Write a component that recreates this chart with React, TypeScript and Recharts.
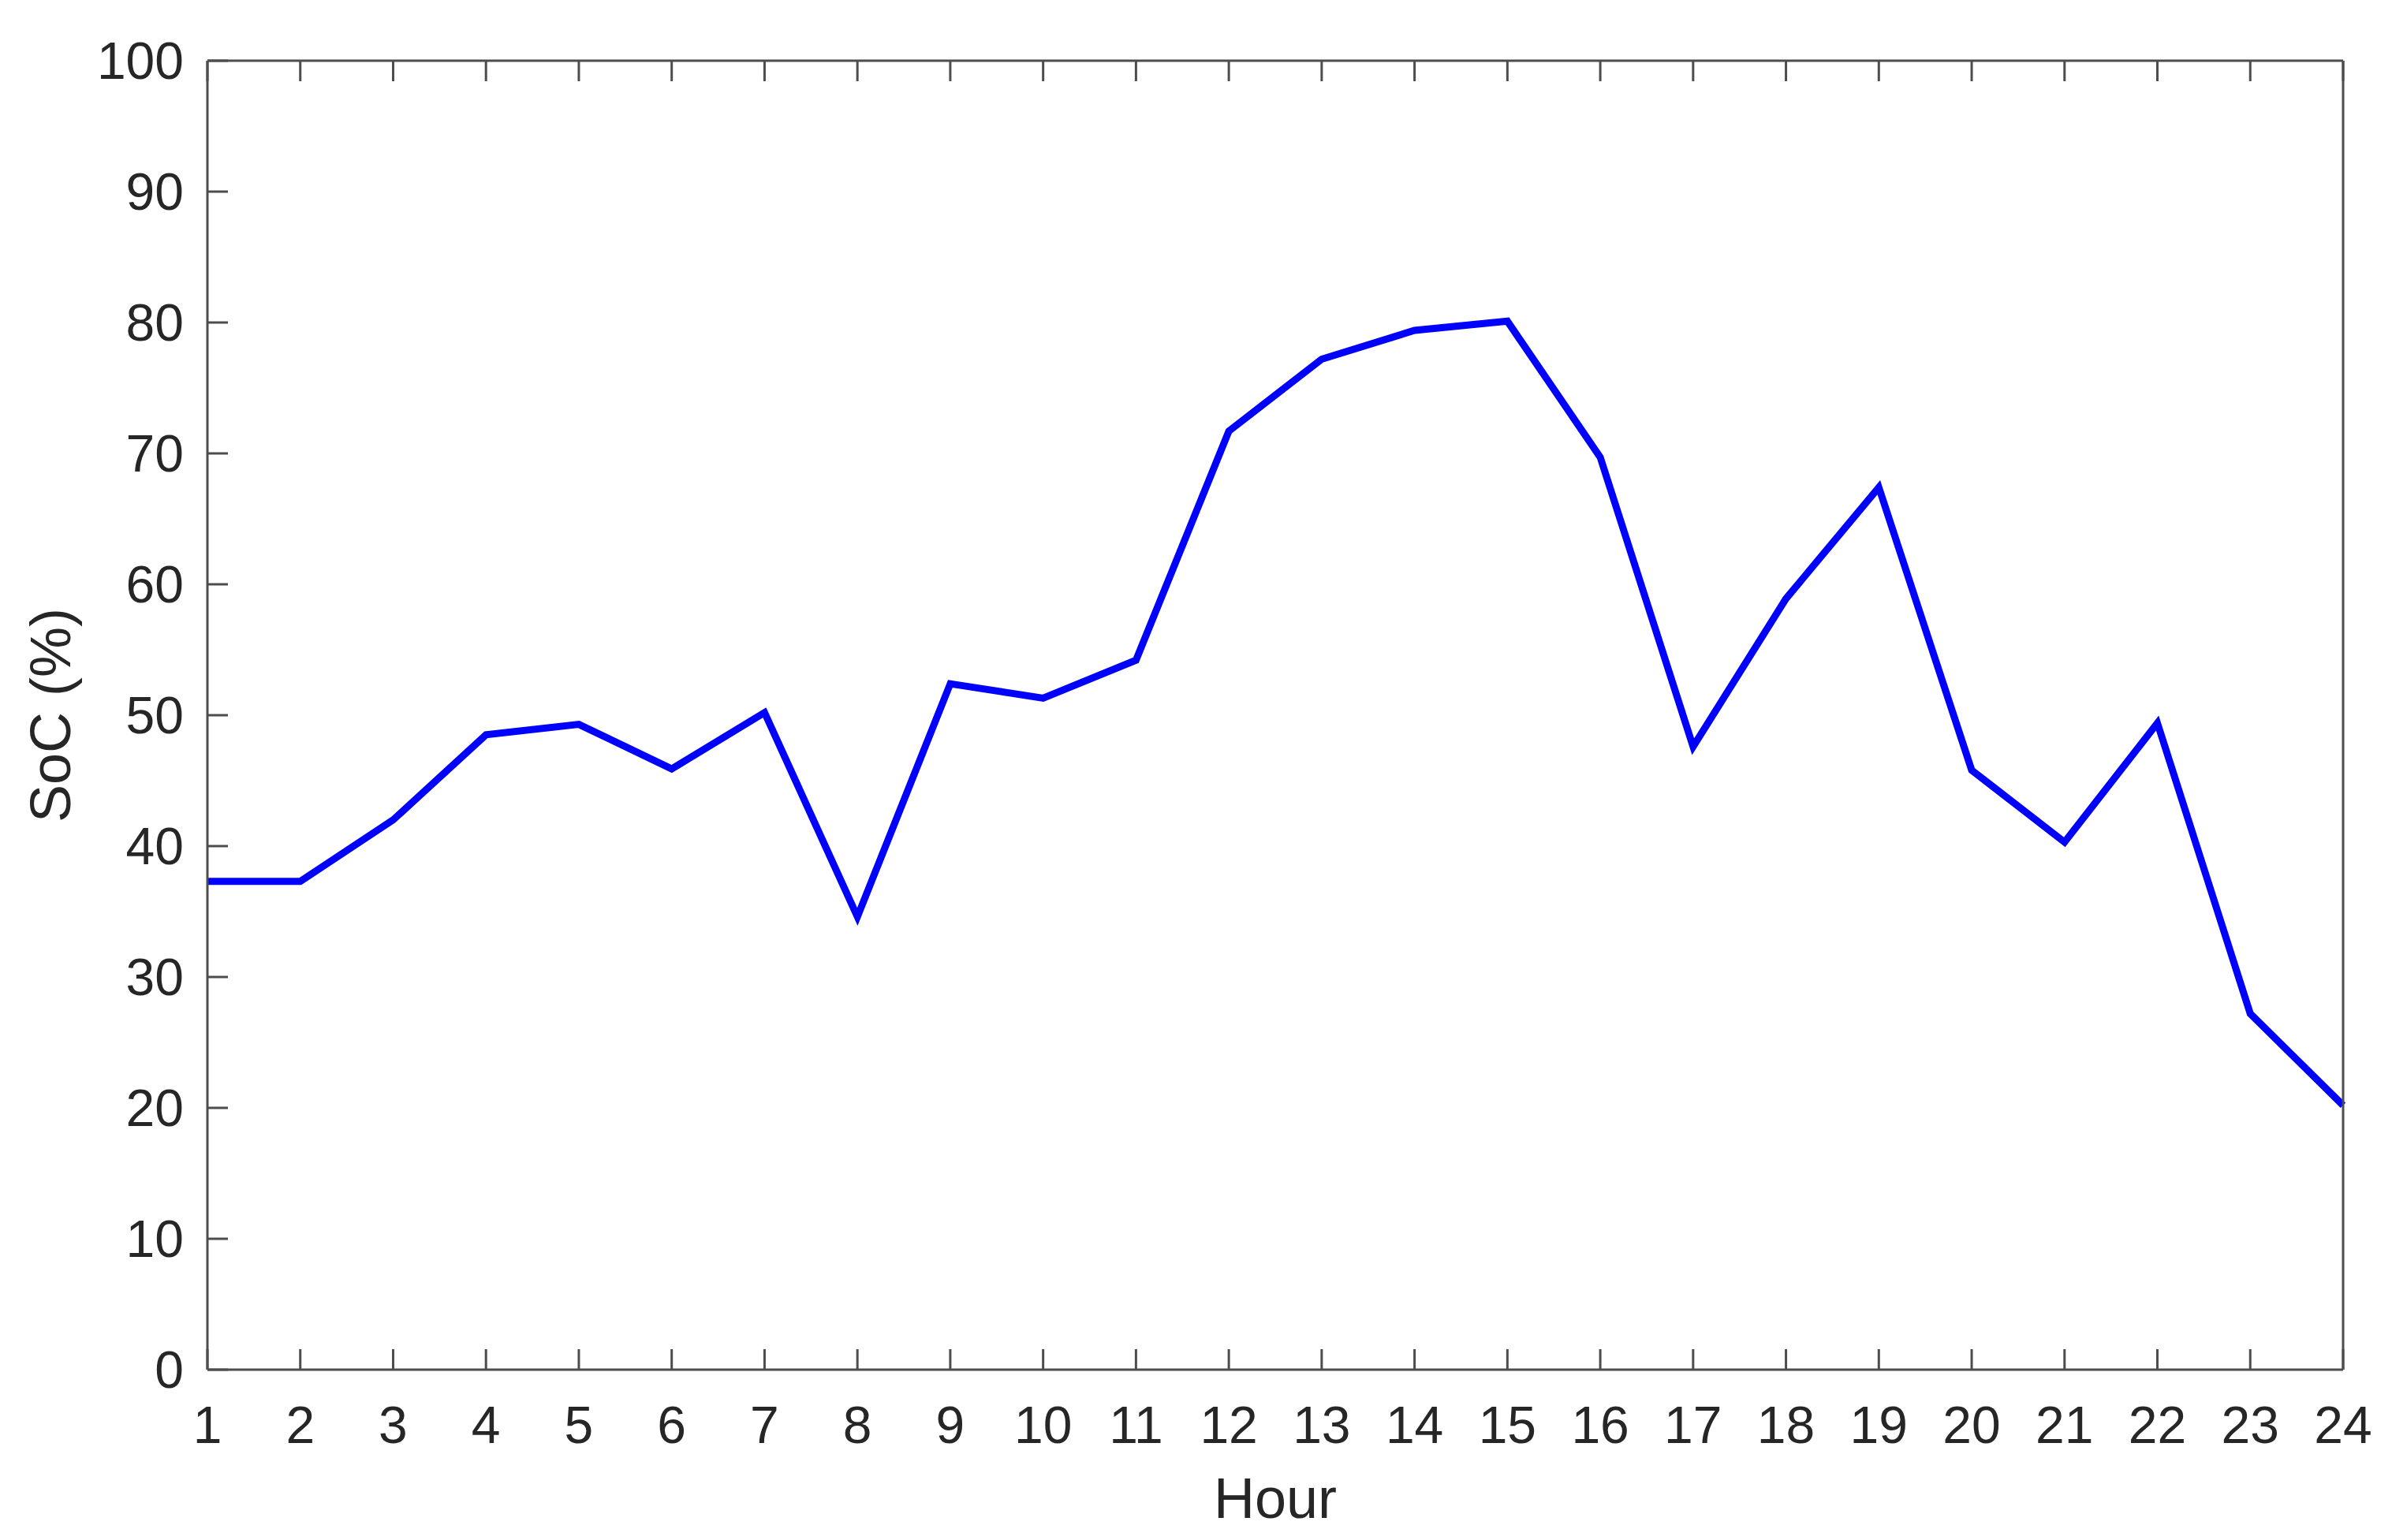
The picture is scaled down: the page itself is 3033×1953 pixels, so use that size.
import React from 'react';
import { LineChart, Line, XAxis, YAxis, Text } from 'recharts';

const hours = [1, 2, 3, 4, 5, 6, 7, 8, 9, 10, 11, 12, 13, 14, 15, 16, 17, 18, 19, 20, 21, 22, 23, 24];
const soc = [37.3, 37.3, 42.0, 48.5, 49.3, 45.9, 50.2, 34.6, 52.4, 51.3, 54.2, 71.7, 77.2, 79.4, 80.1, 69.7, 47.6, 58.9, 67.4, 45.8, 40.3, 49.4, 27.2, 20.2];
const yTicks = [0, 10, 20, 30, 40, 50, 60, 70, 80, 90, 100];

const data = hours.map((h, i) => ({ hour: h, soc: soc[i] }));

const FONT = '"Liberation Sans", Arial, Helvetica, sans-serif';
const AXIS_COLOR = '#4d4d4d';
const TEXT_COLOR = '#262626';
const TICK_LEN = 26;
const TICK_FONT = 66;
const BOTTOM_MARGIN = 46;
const LEFT_MARGIN = 30;

const BottomTick = (props: any) => {
  const { x, y, payload } = props;
  const axisY = y - BOTTOM_MARGIN;
  return (
    <g>
      <line x1={x} x2={x} y1={axisY} y2={axisY - TICK_LEN} stroke={AXIS_COLOR} strokeWidth={3} />
      <Text x={x} y={y} textAnchor="middle" verticalAnchor="start" fill={TEXT_COLOR} fontSize={TICK_FONT} fontFamily={FONT}>
        {String(payload.value)}
      </Text>
    </g>
  );
};

const TopTick = (props: any) => {
  const { x, y } = props;
  return <line x1={x} x2={x} y1={y} y2={y + TICK_LEN} stroke={AXIS_COLOR} strokeWidth={3} />;
};

const LeftTick = (props: any) => {
  const { x, y, payload } = props;
  const axisX = x + LEFT_MARGIN;
  return (
    <g>
      <line x1={axisX} x2={axisX + TICK_LEN} y1={y} y2={y} stroke={AXIS_COLOR} strokeWidth={3} />
      <Text x={x} y={y} textAnchor="end" verticalAnchor="middle" fill={TEXT_COLOR} fontSize={TICK_FONT} fontFamily={FONT}>
        {String(payload.value)}
      </Text>
    </g>
  );
};

const RightTick = (props: any) => {
  const { x, y } = props;
  return <line x1={x} x2={x - TICK_LEN} y1={y} y2={y} stroke={AXIS_COLOR} strokeWidth={3} />;
};

const YLabel = (props: any) => {
  const vb = props.viewBox || {};
  const cy = (vb.y ?? 77) + (vb.height ?? 1660) / 2;
  const bx = 89;
  return (
    <text
      x={bx}
      y={cy}
      transform={`rotate(-90, ${bx}, ${cy})`}
      textAnchor="middle"
      fontFamily={FONT}
      fontSize={72}
      fill={TEXT_COLOR}
    >
      SoC (%)
    </text>
  );
};

export default function App() {
  return (
    <div style={{ position: 'absolute', left: 0, top: 0, background: '#fff' }}>
      <LineChart
        width={3033}
        height={1953}
        data={data}
        margin={{ top: 76, right: 61, bottom: 0, left: 0 }}
      >
        <XAxis
          xAxisId="bottom"
          dataKey="hour"
          type="number"
          domain={[1, 24]}
          ticks={hours}
          interval={0}
          height={216}
          tickSize={0}
          tickMargin={BOTTOM_MARGIN}
          axisLine={{ stroke: AXIS_COLOR, strokeWidth: 3 }}
          tickLine={false}
          tick={<BottomTick />}
          label={{ value: 'Hour', position: 'insideBottom', offset: 28, fill: TEXT_COLOR, fontSize: 72, fontFamily: FONT }}
        />
        <XAxis
          xAxisId="top"
          orientation="top"
          dataKey="hour"
          type="number"
          domain={[1, 24]}
          ticks={hours}
          interval={0}
          height={1}
          tickSize={0}
          tickMargin={0}
          tickLine={false}
          tick={<TopTick />}
          axisLine={{ stroke: AXIS_COLOR, strokeWidth: 3 }}
        />
        <YAxis
          yAxisId="left"
          domain={[0, 100]}
          ticks={yTicks}
          interval={0}
          width={263}
          tickSize={0}
          tickMargin={LEFT_MARGIN}
          axisLine={{ stroke: AXIS_COLOR, strokeWidth: 3 }}
          tickLine={false}
          tick={<LeftTick />}
          label={{ content: <YLabel /> }}
        />
        <YAxis
          yAxisId="right"
          orientation="right"
          domain={[0, 100]}
          ticks={yTicks}
          interval={0}
          width={1}
          tickSize={0}
          tickMargin={0}
          tickLine={false}
          tick={<RightTick />}
          axisLine={{ stroke: AXIS_COLOR, strokeWidth: 3 }}
        />
        <Line
          xAxisId="bottom"
          yAxisId="left"
          type="linear"
          dataKey="soc"
          stroke="#0000FF"
          strokeWidth={9}
          dot={false}
          isAnimationActive={false}
        />
      </LineChart>
    </div>
  );
}
